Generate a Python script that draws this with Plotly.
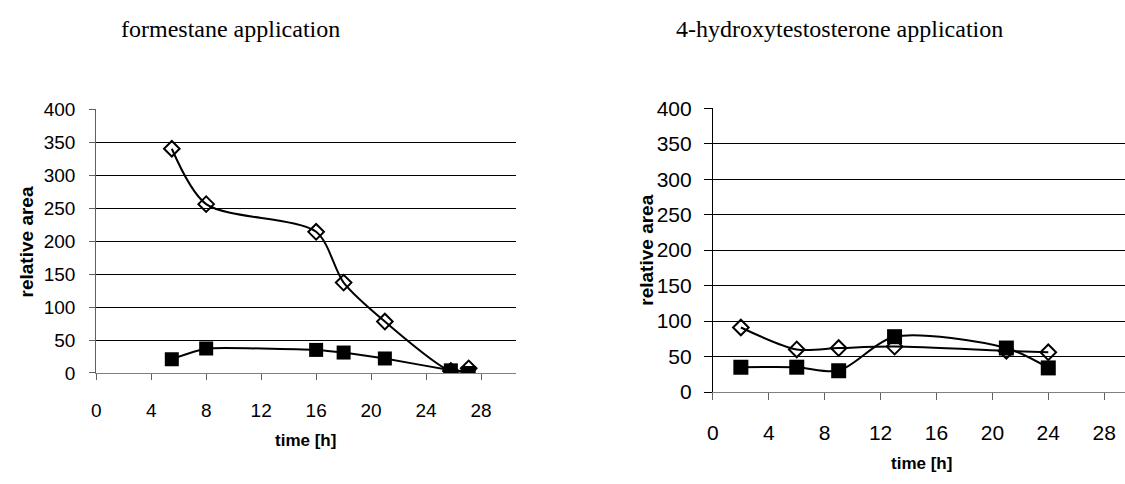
import plotly.graph_objects as go

# ---- data ----
form_time = [5.5, 8, 16, 18, 21, 25.8, 27.1]
form_open = [340, 256, 214, 137, 78, 3, 7]
form_filled = [21, 37, 35, 31, 22, 4, 0]

hyd_time = [2, 6, 9, 13, 21, 24]
hyd_open = [91, 60, 62, 64, 58, 56]
hyd_filled = [35, 35, 30, 78, 62, 34]

x_ticks = [0, 4, 8, 12, 16, 20, 24, 28]
y_ticks = [0, 50, 100, 150, 200, 250, 300, 350, 400]

titles = ["formestane application", "4-hydroxytestosterone application"]
x_title = "time [h]"
y_title = "relative area"

W, H = 1125, 484

fig = go.Figure()

line = dict(color="black", width=2, shape="spline", smoothing=0.8)

# left panel
fig.add_trace(go.Scatter(x=form_time, y=form_filled, mode="lines+markers",
                         line=dict(line, smoothing=0.4),
                         marker=dict(symbol="square", size=14, color="black"),
                         xaxis="x", yaxis="y", showlegend=False))
fig.add_trace(go.Scatter(x=form_time, y=form_open, mode="lines+markers", line=line,
                         marker=dict(symbol="diamond-open", size=12, color="black",
                                     line=dict(width=2, color="black")),
                         xaxis="x", yaxis="y", showlegend=False))
# right panel
fig.add_trace(go.Scatter(x=hyd_time, y=hyd_open, mode="lines+markers", line=line,
                         marker=dict(symbol="diamond-open", size=12, color="black",
                                     line=dict(width=2, color="black")),
                         xaxis="x2", yaxis="y2", showlegend=False))
fig.add_trace(go.Scatter(x=hyd_time, y=hyd_filled, mode="lines+markers", line=line,
                         marker=dict(symbol="square", size=15, color="black"),
                         xaxis="x2", yaxis="y2", showlegend=False))

def px_x(p):
    return p / W

def px_y(p):
    return 1 - p / H

tickfont_l = dict(family="Liberation Sans, Arial", size=19, color="black")
tickfont_r = dict(family="Liberation Sans, Arial", size=21, color="black")

common_x = dict(tickmode="array", tickvals=x_ticks, showgrid=False, zeroline=False,
                showline=True, linecolor="#808080", linewidth=1,
                ticks="outside", tickcolor="#606060", ticklen=6, fixedrange=True)
common_y = dict(tickmode="array", tickvals=y_ticks, showgrid=True, gridcolor="black",
                gridwidth=1, zeroline=False, showline=True, linecolor="#606060",
                linewidth=1, ticks="outside", tickcolor="#606060", ticklen=6,
                range=[0, 400], fixedrange=True)

fig.update_layout(
    width=W, height=H,
    margin=dict(l=0, r=0, t=0, b=0),
    paper_bgcolor="white", plot_bgcolor="white",
    xaxis=dict(common_x, domain=[px_x(90.7), px_x(513)], range=[0, 30.56],
               anchor="y", tickfont=tickfont_l, ticklabelstandoff=14),
    yaxis=dict(common_y, domain=[px_y(379), px_y(102)], anchor="x",
               tickfont=tickfont_l, ticklabelstandoff=10),
    xaxis2=dict(common_x, domain=[px_x(710.7), 1.0], range=[0, 29.49],
                anchor="y2", tickfont=tickfont_r, ticklabelstandoff=15, ticklen=7),
    yaxis2=dict(common_y, domain=[px_y(399), px_y(101)], anchor="x2",
                tickfont=tickfont_r, ticklabelstandoff=8, ticklen=8,
                linecolor="black", tickcolor="black"),
)

ann = []
title_font = dict(family="Liberation Serif, Times New Roman", size=24, color="black")
ann.append(dict(text=titles[0], x=px_x(226), y=px_y(18), xref="paper", yref="paper",
                showarrow=False, font=title_font, xanchor="center", yanchor="middle"))
ann.append(dict(text=titles[1], x=px_x(838), y=px_y(18), xref="paper", yref="paper",
                showarrow=False, font=title_font, xanchor="center", yanchor="middle"))
axfont = dict(family="Liberation Sans, Arial", size=17, color="black")
ann.append(dict(text="<b>%s</b>" % x_title, x=px_x(301), y=px_y(450), xref="paper", yref="paper",
                showarrow=False, font=axfont, xanchor="center", yanchor="middle"))
ann.append(dict(text="<b>%s</b>" % x_title, x=px_x(920), y=px_y(474), xref="paper", yref="paper",
                showarrow=False, font=axfont, xanchor="center", yanchor="middle"))
ann.append(dict(text="<b>%s</b>" % y_title, x=px_x(21), y=px_y(241), xref="paper", yref="paper",
                showarrow=False, font=dict(axfont, size=19), textangle=-90,
                xanchor="center", yanchor="middle"))
ann.append(dict(text="<b>%s</b>" % y_title, x=px_x(644), y=px_y(250), xref="paper", yref="paper",
                showarrow=False, font=dict(axfont, size=19), textangle=-90,
                xanchor="center", yanchor="middle"))
fig.update_layout(annotations=ann)

fig.write_html("out.html", config={"displayModeBar": False},
               post_script="document.body.style.margin='0';document.body.style.overflow='hidden';")
